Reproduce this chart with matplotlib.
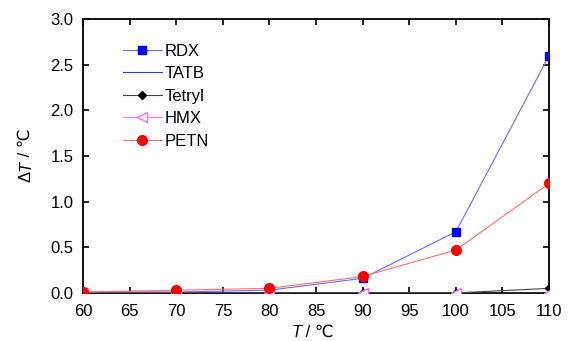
import matplotlib
matplotlib.use('Agg')
import matplotlib.pyplot as plt

plt.rcParams['font.family'] = ['Liberation Sans', 'DejaVu Sans']

# 温度 (℃)
temps = [60, 70, 80, 90, 100, 110]

# 温升 ΔT (℃)
rdx = [0.01, 0.01, 0.03, 0.16, 0.67, 2.60]
tatb = [0.0, 0.0, 0.0, 0.0, 0.0, 0.0]
tetryl = [0.0, 0.0, 0.0, 0.0, 0.0, 0.05]
hmx = [0.0, 0.0, 0.0, 0.0, 0.0, 0.0]
petn = [0.01, 0.03, 0.05, 0.18, 0.47, 1.20]

xticks = [60, 65, 70, 75, 80, 85, 90, 95, 100, 105, 110]
yticks = [0.0, 0.5, 1.0, 1.5, 2.0, 2.5, 3.0]

fig = plt.figure(figsize=(5.69, 3.41), dpi=100)
ax = fig.add_axes([0.146, 0.141, 0.819, 0.803])

ax.plot(temps, rdx, color='#6a6aff', lw=0.8, marker='s', ms=6,
        mfc='#0000ff', mec='#0000ff', label='RDX', zorder=3)
ax.plot(temps, tatb, color='#3333ff', lw=0.8, label='TATB', zorder=2)
ax.plot(temps, tetryl, color='#444444', lw=0.8, marker='D', ms=4.5,
        mfc='black', mec='black', label='Tetryl', zorder=3)
ax.plot(temps, hmx, color='#ff77ff', lw=0.9, marker='<', ms=7,
        mfc='white', mec='#ff66ff', label='HMX', zorder=3)
ax.plot(temps, petn, color='#ff7070', lw=0.8, marker='o', ms=7,
        mfc='#ff0000', mec='#ff0000', label='PETN', zorder=4)

ax.set_xlim(60, 110)
ax.set_ylim(0, 3.0)
ax.set_xticks(xticks)
ax.set_yticks(yticks)
ax.set_yticklabels([f'{v:.1f}' for v in yticks])
ax.tick_params(direction='in', top=True, right=True, length=4, width=1.2,
               labelsize=12)
ax.tick_params(axis='x', pad=8)
ax.tick_params(axis='y', pad=7)
for s in ax.spines.values():
    s.set_linewidth(1.3)

# 轴标题: T 斜体, 单位用普通字体, 逐段拼接
fig.canvas.draw()
renderer = fig.canvas.get_renderer()
inv = fig.transFigure.inverted()

x0 = 0.512
for txt, st in [('T', 'italic'), (' / ℃', 'normal')]:
    t = fig.text(x0, 0.026, txt, fontsize=12, style=st, ha='left', va='center')
    bb = t.get_window_extent(renderer)
    x0 = inv.transform((bb.x1, bb.y1))[0]

y0 = 0.466
for txt, st in [('Δ', 'normal'), ('T', 'italic'), (' / ℃', 'normal')]:
    t = fig.text(0.045, y0, txt, fontsize=12, style=st, rotation=90,
                 ha='center', va='bottom', rotation_mode='default')
    bb = t.get_window_extent(renderer)
    y0 = inv.transform((bb.x1, bb.y1))[1]

leg = ax.legend(loc='upper left', bbox_to_anchor=(0.072, 0.935), frameon=False,
                fontsize=12, handlelength=2.3, handletextpad=0.2,
                labelspacing=0.45, borderaxespad=0)

fig.savefig('out.png', dpi=100)
